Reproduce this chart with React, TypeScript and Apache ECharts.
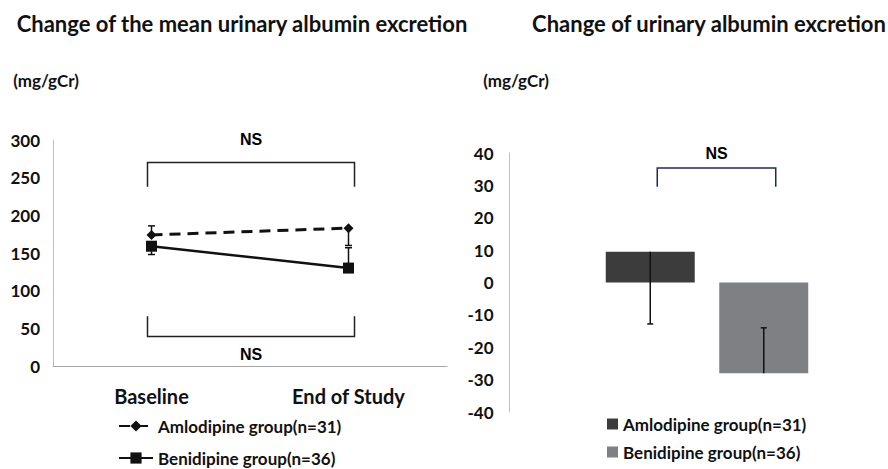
import React, { useEffect, useRef } from "react";
import * as echarts from "echarts";

// ---------- data ----------
const timepoints = ["Baseline", "End of Study"];
const groupNames = ["Amlodipine group(n=31)", "Benidipine group(n=36)"];

// left chart: mean urinary albumin excretion (mg/gCr)
const amlodipineMean = [174, 183];
const benidipineMean = [159, 130];
// end value of the (one-sided) error bar drawn at each time point
const amlodipineErrEnd = [186, 160];
const benidipineErrEnd = [148, 157];

// right chart: change of urinary albumin excretion (mg/gCr)
const changeMean = [9.5, -28];
const changeErrEnd = [-12.8, -14];

// axis ranges
const leftAxis = { min: 0, max: 300, interval: 50 };
const rightAxis = { min: -40, max: 40, interval: 10 };

// significance brackets: [fromCat, toCat, barValue, legEndValue, labelValue]
const leftBrackets = [
  [0, 1, 270, 238, 301],
  [0, 1, 39, 66, 15],
];
const rightBrackets = [[0, 1, 35.4, 29.6, 40]];
const bracketLabel = "NS";

const FONT = 'Lato, "Open Sans", sans-serif';
const BAR_PREFIX = "bar:";

function errorBarRenderer(color: string, lw: number, cap: number) {
  return (_params: any, api: any) => {
    const p0 = api.coord([api.value(0), api.value(1)]);
    const p1 = api.coord([api.value(0), api.value(2)]);
    return {
      type: "group",
      children: [
        {
          type: "line",
          shape: { x1: p0[0], y1: p0[1], x2: p1[0], y2: p1[1] },
          style: { stroke: color, lineWidth: lw },
        },
        {
          type: "line",
          shape: { x1: p1[0] - cap, y1: p1[1], x2: p1[0] + cap, y2: p1[1] },
          style: { stroke: color, lineWidth: lw },
        },
      ],
    };
  };
}

function bracketRenderer(color: string, lw: number, padL: number, padR: number, labelFont: string) {
  return (_params: any, api: any) => {
    const a = api.coord([api.value(0), api.value(2)]);
    const b = api.coord([api.value(1), api.value(2)]);
    const aLeg = api.coord([api.value(0), api.value(3)]);
    const lab = api.coord([api.value(0), api.value(4)]);
    const x0 = a[0] + padL;
    const x1 = b[0] + padR;
    return {
      type: "group",
      children: [
        {
          type: "polyline",
          shape: {
            points: [
              [x0, aLeg[1]],
              [x0, a[1]],
              [x1, a[1]],
              [x1, aLeg[1]],
            ],
          },
          style: { stroke: color, lineWidth: lw, fill: "none" },
        },
        {
          type: "text",
          x: (x0 + x1) / 2,
          y: lab[1],
          style: {
            text: bracketLabel,
            fill: "#000",
            font: labelFont,
            align: "center",
            verticalAlign: "middle",
          },
        },
      ],
    };
  };
}

export default function App() {
  const ref = useRef<HTMLDivElement>(null);

  useEffect(() => {
    if (!ref.current) return;
    const chart = echarts.init(ref.current, null, { renderer: "svg" });

    const axisLabelStyle = {
      fontSize: 17,
      fontWeight: "bold" as const,
      fontFamily: FONT,
      color: "#111",
    };
    const nsFont = 'bold 16px "Liberation Sans", Arial, sans-serif';

    const option: any = {
      animation: false,
      backgroundColor: "#fff",
      graphic: [
        {
          type: "text",
          x: 242,
          y: 23,
          style: {
            text: "Change of the mean urinary albumin excretion",
            font: `bold 22px ${FONT}`,
            fill: "#111",
            align: "center",
            verticalAlign: "middle",
          },
        },
        {
          type: "text",
          x: 709,
          y: 23,
          style: {
            text: "Change of urinary albumin excretion",
            font: `bold 22px ${FONT}`,
            fill: "#111",
            align: "center",
            verticalAlign: "middle",
          },
        },
        {
          type: "text",
          x: 46,
          y: 80,
          style: {
            text: "(mg/gCr)",
            font: `bold 17px ${FONT}`,
            fill: "#111",
            align: "center",
            verticalAlign: "middle",
          },
        },
        {
          type: "text",
          x: 516,
          y: 80,
          style: {
            text: "(mg/gCr)",
            font: `bold 17px ${FONT}`,
            fill: "#111",
            align: "center",
            verticalAlign: "middle",
          },
        },
      ],
      grid: [
        { left: 53, top: 140, width: 394, height: 226 },
        { left: 593.5, top: 153, width: 227, height: 259 },
      ],
      xAxis: [
        {
          gridIndex: 0,
          type: "category",
          data: timepoints,
          axisLine: { lineStyle: { color: "#a6a6a6", width: 1 } },
          axisTick: { show: false },
          axisLabel: { ...axisLabelStyle, fontSize: 20, margin: 20 },
        },
        {
          gridIndex: 1,
          type: "category",
          data: groupNames,
          show: false,
        },
      ],
      yAxis: [
        {
          gridIndex: 0,
          type: "value",
          min: leftAxis.min,
          max: leftAxis.max,
          interval: leftAxis.interval,
          axisLine: { show: true, lineStyle: { color: "#bfbfbf", width: 1 } },
          axisTick: { show: false },
          splitLine: { show: false },
          axisLabel: { ...axisLabelStyle, margin: 13 },
        },
        {
          gridIndex: 1,
          type: "value",
          min: rightAxis.min,
          max: rightAxis.max,
          interval: rightAxis.interval,
          offset: 84,
          axisLine: { show: true, lineStyle: { color: "#bfbfbf", width: 1 } },
          axisTick: { show: false },
          splitLine: { show: false },
          axisLabel: { ...axisLabelStyle, margin: 16 },
        },
      ],
      legend: [
        {
          data: groupNames,
          orient: "vertical",
          left: 118,
          top: 416,
          height: 80,
          padding: 0,
          itemWidth: 34,
          itemHeight: 14,
          itemGap: 12,
          selectedMode: false,
          textStyle: { ...axisLabelStyle, lineHeight: 20 },
        },
        {
          data: groupNames.map((n) => BAR_PREFIX + n),
          formatter: (n: string) => n.replace(BAR_PREFIX, ""),
          orient: "vertical",
          left: 607,
          top: 414,
          height: 80,
          padding: 0,
          icon: "rect",
          itemWidth: 11,
          itemHeight: 11,
          itemGap: 8,
          selectedMode: false,
          textStyle: { ...axisLabelStyle, lineHeight: 20 },
        },
      ],
      series: [
        {
          type: "custom",
          name: "errLeft",
          xAxisIndex: 0,
          yAxisIndex: 0,
          renderItem: errorBarRenderer("#111", 1.5, 3.5),
          encode: { x: 0, y: [1, 2] },
          data: [
            ...amlodipineMean.map((m, i) => [i, m, amlodipineErrEnd[i]]),
            ...benidipineMean.map((m, i) => [i, m, benidipineErrEnd[i]]),
          ],
          z: 1,
          silent: true,
        },
        {
          type: "line",
          name: groupNames[0],
          xAxisIndex: 0,
          yAxisIndex: 0,
          data: amlodipineMean,
          symbol: "diamond",
          symbolSize: 10,
          showAllSymbol: true,
          lineStyle: { color: "#111", width: 3, type: [11, 7] },
          itemStyle: { color: "#111" },
          z: 3,
        },
        {
          type: "line",
          name: groupNames[1],
          xAxisIndex: 0,
          yAxisIndex: 0,
          data: benidipineMean,
          symbol: "rect",
          symbolSize: 11,
          lineStyle: { color: "#111", width: 2.5, type: "solid" },
          itemStyle: { color: "#111" },
          z: 3,
        },
        {
          type: "custom",
          name: "bracketLeft",
          xAxisIndex: 0,
          yAxisIndex: 0,
          renderItem: bracketRenderer("#222", 1.5, -4, 6, nsFont),
          encode: { x: [0, 1], y: [2, 3, 4] },
          data: leftBrackets,
          silent: true,
        },
        {
          type: "bar",
          name: BAR_PREFIX + groupNames[0],
          xAxisIndex: 1,
          yAxisIndex: 1,
          data: [changeMean[0], "-"],
          barWidth: 89,
          barGap: "-100%",
          itemStyle: { color: "#3c3c3c" },
        },
        {
          type: "bar",
          name: BAR_PREFIX + groupNames[1],
          xAxisIndex: 1,
          yAxisIndex: 1,
          data: ["-", changeMean[1]],
          barWidth: 89,
          barGap: "-100%",
          itemStyle: { color: "#7f8084" },
        },
        {
          type: "custom",
          name: "errRight",
          xAxisIndex: 1,
          yAxisIndex: 1,
          renderItem: errorBarRenderer("#111", 1.5, 3),
          encode: { x: 0, y: [1, 2] },
          data: changeMean.map((m, i) => [i, m, changeErrEnd[i]]),
          z: 5,
          silent: true,
        },
        {
          type: "custom",
          name: "bracketRight",
          xAxisIndex: 1,
          yAxisIndex: 1,
          renderItem: bracketRenderer("#1f2a5c", 1.5, 7, 12, nsFont),
          encode: { x: [0, 1], y: [2, 3, 4] },
          data: rightBrackets,
          silent: true,
        },
      ],
    };

    chart.setOption(option);
    return () => chart.dispose();
  }, []);

  return (
    <div
      ref={ref}
      style={{ position: "fixed", left: 0, top: 0, width: 888, height: 469, background: "#fff" }}
    />
  );
}
